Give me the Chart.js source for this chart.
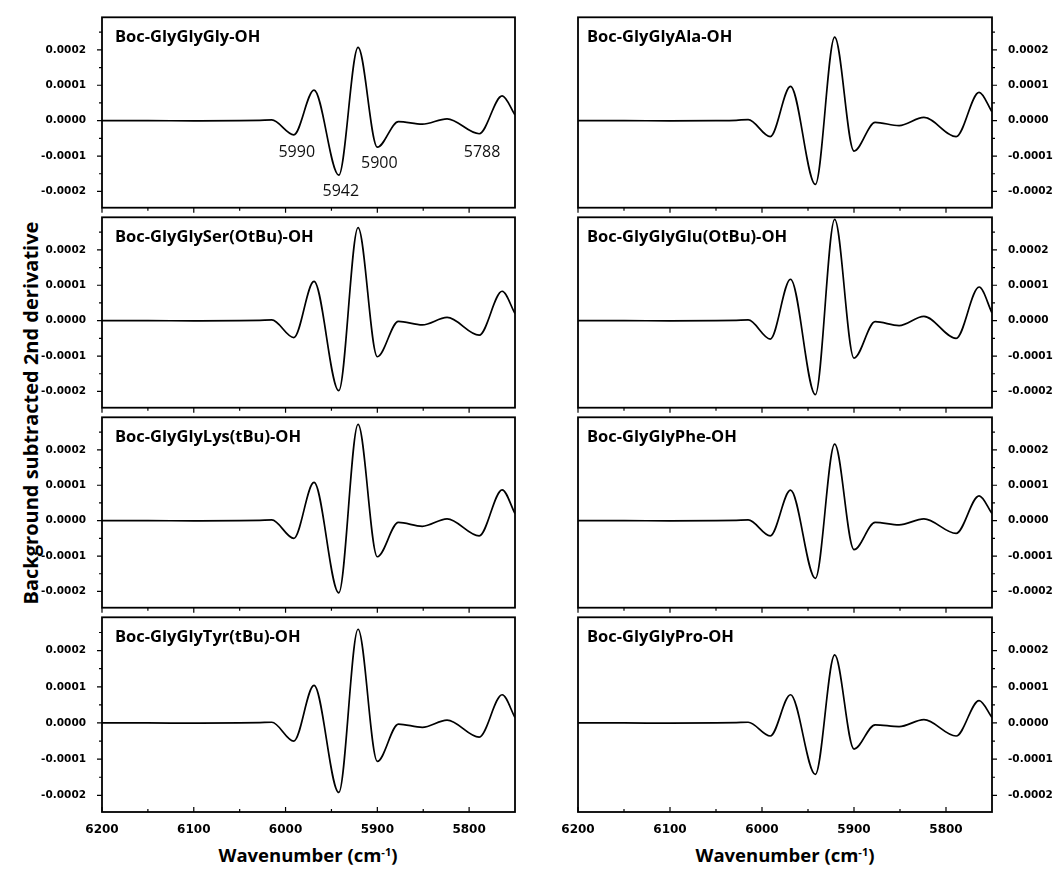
<!DOCTYPE html>
<html><head><meta charset="utf-8">
<script src="https://cdn.jsdelivr.net/npm/chart.js@4.4.0/dist/chart.umd.min.js"></script>
<style>
html,body{margin:0;padding:0;background:#fff;}
#wrap{position:relative;width:1062px;height:871px;overflow:hidden;background:#fff;}
#wrap canvas{position:absolute;}
.xt{position:absolute;top:846px;font-family:'Open Sans';font-weight:bold;font-size:18.5px;line-height:1;color:#000;transform:translateX(-50%);white-space:nowrap;}
.xt sup{font-size:11px;vertical-align:0.55em;line-height:0;}
#yt{position:absolute;left:31px;top:413px;font-family:'Open Sans';font-weight:bold;font-size:20px;line-height:1;color:#000;white-space:nowrap;transform:translate(-50%,-50%) rotate(-90deg);}
</style>
</head><body>
<div id="wrap">
  <div id="yt">Background subtracted 2nd derivative</div>
  <div class="xt" style="left:308px">Wavenumber (cm<sup>-1</sup>)</div>
  <div class="xt" style="left:785px">Wavenumber (cm<sup>-1</sup>)</div>
</div>
<script>
// ---- data ----
const wavenumber = [6200, 6150, 6100, 6050, 6028, 6015, 5991, 5969, 5942, 5921, 5900, 5877, 5851, 5824, 5789, 5764, 5750];
const glyGlyGly    = [0, 0, -0.005e-4, 0, 0.01e-4, 0.02e-4, -0.40e-4, 0.86e-4, -1.54e-4, 2.07e-4, -0.75e-4, -0.03e-4, -0.10e-4, 0.05e-4, -0.37e-4, 0.70e-4, 0.16e-4];
const glyGlySerOtBu = [0, 0, -0.005e-4, 0, 0.01e-4, 0.02e-4, -0.48e-4, 1.11e-4, -1.98e-4, 2.63e-4, -1.02e-4, -0.02e-4, -0.12e-4, 0.09e-4, -0.41e-4, 0.83e-4, 0.20e-4];
const glyGlyLysTBu = [0, 0, -0.005e-4, 0, 0.01e-4, 0.02e-4, -0.50e-4, 1.08e-4, -2.04e-4, 2.72e-4, -1.02e-4, -0.05e-4, -0.16e-4, 0.05e-4, -0.43e-4, 0.87e-4, 0.20e-4];
const glyGlyTyrTBu = [0, 0, -0.005e-4, 0, 0.01e-4, 0.02e-4, -0.50e-4, 1.04e-4, -1.92e-4, 2.59e-4, -1.06e-4, -0.03e-4, -0.12e-4, 0.08e-4, -0.39e-4, 0.78e-4, 0.15e-4];
const glyGlyAla    = [0, 0, -0.005e-4, 0, 0.01e-4, 0.03e-4, -0.45e-4, 0.97e-4, -1.80e-4, 2.36e-4, -0.86e-4, -0.05e-4, -0.14e-4, 0.09e-4, -0.45e-4, 0.80e-4, 0.25e-4];
const glyGlyGluOtBu = [0, 0, -0.005e-4, 0, 0.01e-4, 0.02e-4, -0.52e-4, 1.17e-4, -2.09e-4, 2.86e-4, -1.06e-4, -0.03e-4, -0.14e-4, 0.12e-4, -0.50e-4, 0.95e-4, 0.22e-4];
const glyGlyPhe    = [0, 0, -0.005e-4, 0, 0.01e-4, 0.02e-4, -0.43e-4, 0.86e-4, -1.63e-4, 2.16e-4, -0.82e-4, -0.05e-4, -0.12e-4, 0.05e-4, -0.36e-4, 0.70e-4, 0.20e-4];
const glyGlyPro    = [0, 0, -0.005e-4, 0, 0.01e-4, 0.02e-4, -0.36e-4, 0.78e-4, -1.42e-4, 1.88e-4, -0.72e-4, -0.05e-4, -0.10e-4, 0.09e-4, -0.36e-4, 0.62e-4, 0.15e-4];

const sampleNames = ['Boc-GlyGlyGly-OH', 'Boc-GlyGlySer(OtBu)-OH', 'Boc-GlyGlyLys(tBu)-OH', 'Boc-GlyGlyTyr(tBu)-OH',
                     'Boc-GlyGlyAla-OH', 'Boc-GlyGlyGlu(OtBu)-OH', 'Boc-GlyGlyPhe-OH', 'Boc-GlyGlyPro-OH'];
const seriesList = [glyGlyGly, glyGlySerOtBu, glyGlyLysTBu, glyGlyTyrTBu, glyGlyAla, glyGlyGluOtBu, glyGlyPhe, glyGlyPro];

const peakLabels = ['5990', '5942', '5900', '5788'];
const peakLabelX = [5990, 5942, 5900, 5788];
const peakLabelY = [-0.85e-4, -1.97e-4, -1.16e-4, -0.85e-4];

const xMajorTicks = [6200, 6100, 6000, 5900, 5800];
const xMinorTicks = [6150, 6050, 5950, 5850];
const yMajorTicks = [-0.0002, -0.0001, 0, 0.0001, 0.0002];
const yMinorTicks = [-0.00015, -0.00005, 0.00005, 0.00015, 0.00025];

// ---- frame / ticks / labels plugin ----
const framePlugin = {
  id: 'frame',
  afterDatasetsDraw(chart, args, o) {
    const ctx = chart.ctx, a = chart.chartArea, x = chart.scales.x, y = chart.scales.y;
    ctx.save();
    ctx.strokeStyle = '#000';
    ctx.lineWidth = 1.2;
    ctx.beginPath();
    const yt = (vals, len) => vals.forEach(v => {
      const p = y.getPixelForValue(v);
      if (p < a.top || p > a.bottom) return;
      if (o.col === 0) { ctx.moveTo(a.left - len, p); ctx.lineTo(a.left, p); }
      else { ctx.moveTo(a.right, p); ctx.lineTo(a.right + len, p); }
    });
    yt(yMajorTicks, 5); yt(yMinorTicks, 3);
    const xt = (vals, len) => vals.forEach(v => {
      const p = x.getPixelForValue(v);
      if (o.last) { ctx.moveTo(p, a.bottom); ctx.lineTo(p, a.bottom - len); }
      else { ctx.moveTo(p, a.bottom); ctx.lineTo(p, a.bottom + len); }
    });
    xt(xMajorTicks, 5); xt(xMinorTicks, 3);
    ctx.stroke();
    ctx.lineWidth = 1.8;
    ctx.strokeRect(a.left, a.top, a.right - a.left, a.bottom - a.top);
    // panel name
    ctx.fillStyle = '#000';
    ctx.font = 'bold 16.5px "Open Sans"';
    ctx.textAlign = 'left';
    ctx.textBaseline = 'alphabetic';
    ctx.fillText(o.name, a.left + (o.col === 0 ? 13 : 9), a.top + 25);
    if (o.annotate) {
      ctx.font = '16px "Open Sans"';
      ctx.fillStyle = '#111';
      ctx.textAlign = 'center';
      ctx.textBaseline = 'alphabetic';
      peakLabels.forEach((t, i) => ctx.fillText(t, x.getPixelForValue(peakLabelX[i]) + 2, y.getPixelForValue(peakLabelY[i]) + 6));
    }
    ctx.restore();
  }
};

const wrap = document.getElementById('wrap');
function fmt(v) { return Math.abs(v) < 1e-12 ? '0.0000' : v.toFixed(4); }

seriesList.forEach((series, idx) => {
  const col = idx < 4 ? 0 : 1, row = idx % 4, last = row === 3;
  const left = col === 0 ? 0 : 540, width = col === 0 ? 530 : 522;
  const top = 3 + 200 * row, height = last ? 240 : 219;
  const cv = document.createElement('canvas');
  cv.width = width; cv.height = height;
  cv.style.left = left + 'px'; cv.style.top = top + 'px';
  cv.style.width = width + 'px'; cv.style.height = height + 'px';
  wrap.appendChild(cv);
  const xScale = {
    type: 'linear', min: 5750, max: 6200, reverse: true, display: last,
    grid: { display: false }, border: { display: false },
    ticks: { stepSize: 100, includeBounds: false, padding: 3, maxRotation: 0, autoSkip: false, color: '#000',
             font: { family: 'DejaVu Sans', weight: 'bold', size: 12 }, callback: v => String(v) }
  };
  if (last) xScale.afterFit = s => { s.height = 31; };
  new Chart(cv, {
    type: 'line',
    data: { datasets: [{
      data: wavenumber.map((w, i) => ({ x: w, y: series[i] })),
      borderColor: '#000', borderWidth: 1.7, pointRadius: 0, fill: false,
      cubicInterpolationMode: 'monotone'
    }] },
    options: {
      responsive: false, animation: false, devicePixelRatio: 1,
      layout: { padding: { left: col === 0 ? 0 : 38, right: col === 0 ? 15 : 0, top: 10, bottom: last ? 0 : 10 } },
      plugins: { legend: { display: false }, tooltip: { enabled: false },
                 frame: { col, last, name: sampleNames[idx], annotate: idx === 0 } },
      scales: {
        x: xScale,
        y: {
          type: 'linear', position: col === 0 ? 'left' : 'right', min: -0.000246, max: 0.000292,
          grid: { display: false }, border: { display: false },
          ticks: { stepSize: 0.0001, includeBounds: false, padding: 8, color: '#000',
                   font: { family: 'DejaVu Sans', weight: 'bold', size: 10.5 }, callback: v => fmt(v) },
          afterFit: s => { s.width = col === 0 ? 102 : 70; }
        }
      }
    },
    plugins: [framePlugin]
  });
});
</script>
</body></html>
